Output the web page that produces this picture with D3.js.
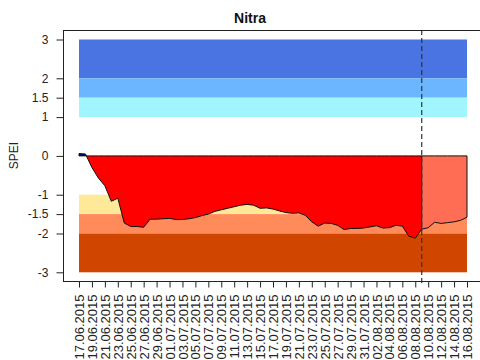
<!DOCTYPE html>
<html>
<head>
<meta charset="utf-8">
<script src="https://cdn.jsdelivr.net/npm/d3@7"></script>
<style>
  html, body { margin: 0; padding: 0; background: #fff; }
  svg { display: block; font-family: "Liberation Sans", Arial, Helvetica, sans-serif; }
</style>
</head>
<body>
<svg id="chart" width="480" height="360"></svg>
<script>
// Daily SPEI for Nitra, observed up to the forecast start, then forecast
const dates = [
  "17.06.2015","18.06.2015","19.06.2015","20.06.2015","21.06.2015","22.06.2015","23.06.2015",
  "24.06.2015","25.06.2015","26.06.2015","27.06.2015","28.06.2015","29.06.2015","30.06.2015",
  "01.07.2015","02.07.2015","03.07.2015","04.07.2015","05.07.2015","06.07.2015","07.07.2015",
  "08.07.2015","09.07.2015","10.07.2015","11.07.2015","12.07.2015","13.07.2015","14.07.2015",
  "15.07.2015","16.07.2015","17.07.2015","18.07.2015","19.07.2015","20.07.2015","21.07.2015",
  "22.07.2015","23.07.2015","24.07.2015","25.07.2015","26.07.2015","27.07.2015","28.07.2015",
  "29.07.2015","30.07.2015","31.07.2015","01.08.2015","02.08.2015","03.08.2015","04.08.2015",
  "05.08.2015","06.08.2015","07.08.2015","08.08.2015","09.08.2015","10.08.2015","11.08.2015",
  "12.08.2015","13.08.2015","14.08.2015","15.08.2015","16.08.2015"
];
const spei = [
   0.06,  0.05, -0.30, -0.57, -0.77, -1.17, -1.09,
  -1.73, -1.82, -1.82, -1.84, -1.63, -1.63, -1.62,
  -1.61, -1.64, -1.64, -1.62, -1.59, -1.54, -1.50,
  -1.43, -1.39, -1.35, -1.31, -1.27, -1.25, -1.27,
  -1.35, -1.34, -1.37, -1.42, -1.46, -1.48, -1.47,
  -1.53, -1.70, -1.81, -1.73, -1.74, -1.79, -1.90,
  -1.87, -1.87, -1.86, -1.83, -1.80, -1.86, -1.85,
  -1.79, -1.81, -2.07, -2.12, -1.89, -1.85, -1.71,
  -1.74, -1.72, -1.70, -1.66, -1.58
];
const forecastStart = "09.08.2015";

const xTickLabels = [
  "17.06.2015","19.06.2015","21.06.2015","23.06.2015","25.06.2015","27.06.2015","29.06.2015",
  "01.07.2015","03.07.2015","05.07.2015","07.07.2015","09.07.2015","11.07.2015","13.07.2015",
  "15.07.2015","17.07.2015","19.07.2015","21.07.2015","23.07.2015","25.07.2015","27.07.2015",
  "29.07.2015","31.07.2015","02.08.2015","04.08.2015","06.08.2015","08.08.2015","10.08.2015",
  "12.08.2015","14.08.2015","16.08.2015"
];
const yTickValues = [3, 2, 1.5, 1, 0, -1, -1.5, -2, -3];

// SPEI class bands (wet above, dry below)
const classLower = [2, 1.5, 1, -1.5, -2, -3];
const classUpper = [3, 2, 1.5, -1, -1.5, -2];
const classColours = ["#4A74E2", "#6BB6FF", "#A0F5FF", "#FFE898", "#FF8A5A", "#D04500"];

const parse = d3.timeParse("%d.%m.%Y");
const series = dates.map((d, i) => ({ date: parse(d), value: spei[i] }));
const fcDate = parse(forecastStart);
const observed = series.filter(d => d.date <= fcDate);
const forecast = series.filter(d => d.date >= fcDate);

const svg = d3.select("#chart");
const frame = { left: 63, top: 30, right: 492, bottom: 281 };

const x = d3.scaleTime()
  .domain([parse(dates[0]), parse(dates[dates.length - 1])])
  .range([79, 467]);
const y = d3.scaleLinear().domain([-3, 3]).range([272.3, 39.5]);

// class bands
svg.append("g").selectAll("rect")
  .data(classLower.map((lo, i) => ({ lo, hi: classUpper[i], colour: classColours[i] })))
  .join("rect")
  .attr("x", x.range()[0])
  .attr("width", x.range()[1] - x.range()[0])
  .attr("y", d => y(d.hi))
  .attr("height", d => y(d.lo) - y(d.hi))
  .attr("fill", d => d.colour);

// clip regions above / below zero
const defs = svg.append("defs");
defs.append("clipPath").attr("id", "above")
  .append("rect").attr("x", 0).attr("y", 0).attr("width", 480).attr("height", y(0));
defs.append("clipPath").attr("id", "below")
  .append("rect").attr("x", 0).attr("y", y(0)).attr("width", 480).attr("height", 360 - y(0));

const area = d3.area()
  .x(d => x(d.date))
  .y0(y(0))
  .y1(d => y(d.value));

function drawPart(data, negFill) {
  const g = svg.append("g");
  g.append("path").datum(data).attr("d", area)
    .attr("fill", "#00008B").attr("clip-path", "url(#above)");
  g.append("path").datum(data).attr("d", area)
    .attr("fill", negFill).attr("clip-path", "url(#below)");
  g.append("path").datum(data).attr("d", area)
    .attr("fill", "none").attr("stroke", "#111").attr("stroke-width", 1);
}
drawPart(observed, "#FF0000");
drawPart(forecast, "#FF6D54");

// forecast start marker
svg.append("line")
  .attr("x1", x(fcDate)).attr("x2", x(fcDate))
  .attr("y1", frame.top).attr("y2", frame.bottom + 3)
  .attr("stroke", "#333").attr("stroke-width", 1.2)
  .attr("stroke-dasharray", "5,3");

// plot frame
svg.append("rect")
  .attr("x", frame.left + 0.5).attr("y", frame.top + 0.5)
  .attr("width", frame.right - frame.left).attr("height", frame.bottom - frame.top)
  .attr("fill", "none").attr("stroke", "#222").attr("stroke-width", 1);

// y axis
const yAxis = svg.append("g")
  .attr("transform", `translate(${frame.left + 0.5},0)`)
  .call(d3.axisLeft(y).tickValues(yTickValues).tickSize(7).tickPadding(8)
    .tickFormat(d => String(d)));
yAxis.select(".domain").remove();
yAxis.selectAll("line").attr("stroke", "#222");
yAxis.selectAll("text").attr("font-size", 12).attr("fill", "#222");

// x axis
const xAxis = svg.append("g")
  .attr("transform", `translate(0,${frame.bottom + 0.5})`)
  .call(d3.axisBottom(x).tickValues(xTickLabels.map(parse)).tickSize(6)
    .tickFormat(d3.timeFormat("%d.%m.%Y")));
xAxis.select(".domain").remove();
xAxis.selectAll("line").attr("stroke", "#222");
xAxis.selectAll("text")
  .attr("font-size", 13).attr("fill", "#222")
  .attr("transform", "rotate(-90)")
  .attr("x", -13).attr("y", 0).attr("dy", "0.35em")
  .style("text-anchor", "end");

// labels
svg.append("text")
  .attr("transform", `translate(18,${(frame.top + frame.bottom) / 2}) rotate(-90)`)
  .attr("text-anchor", "middle")
  .attr("font-size", 12).attr("fill", "#222")
  .text("SPEI");

svg.append("text")
  .attr("x", 250).attr("y", 23)
  .attr("text-anchor", "middle")
  .attr("font-size", 14).attr("font-weight", "bold").attr("fill", "#111")
  .text("Nitra");
</script>
</body>
</html>
